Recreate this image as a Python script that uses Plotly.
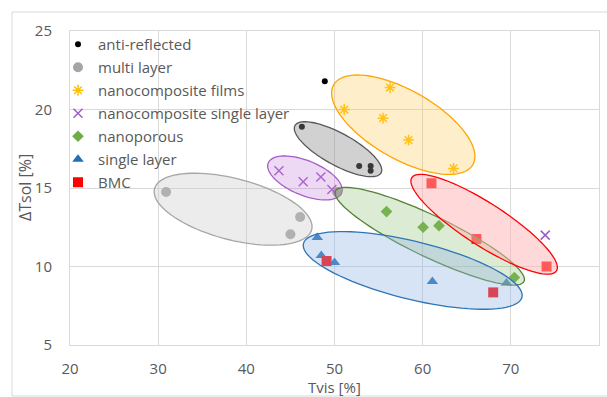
import numpy as np
import plotly.graph_objects as go

# --- measured values: Tvis [%] vs ΔTsol [%] ---
anti_x = [48.9, 46.3, 52.8, 54.1, 54.1]
anti_y = [21.8, 18.9, 16.4, 16.4, 16.1]

multi_x = [30.9, 46.1, 45.0, 50.3]
multi_y = [14.75, 13.15, 12.05, 14.75]

films_x = [56.3, 51.1, 55.5, 58.4, 63.5]
films_y = [21.4, 20.0, 19.45, 18.05, 16.25]

ncsl_x = [43.7, 46.45, 48.45, 49.7, 73.9]
ncsl_y = [16.1, 15.4, 15.7, 14.9, 12.0]

porous_x = [55.9, 60.05, 61.85, 70.4]
porous_y = [13.5, 12.5, 12.6, 9.3]

single_x = [48.05, 48.5, 50.0, 61.1, 69.5]
single_y = [11.85, 10.7, 10.25, 9.05, 8.95]

bmc_x = [61.0, 49.1, 66.1, 68.0, 74.05]
bmc_y = [15.3, 10.35, 11.75, 8.35, 10.0]

x_ticks = [20, 30, 40, 50, 60, 70, 80]
y_ticks = [5, 10, 15, 20, 25]

# group outlines: centre (x, y), half axes in Tvis units, tilt in screen degrees
groups = [
    dict(cx=38.5, cy=13.65, a=9.21, b=3.47, tilt=14.6, fill="rgba(200,200,200,0.35)", line="#a6a6a6"),
    dict(cx=50.4, cy=17.47, a=5.57, b=1.81, tilt=28.8, fill="rgba(140,140,140,0.40)", line="#595959"),
    dict(cx=46.65, cy=15.64, a=4.50, b=1.96, tilt=22.3, fill="rgba(200,130,220,0.30)", line="#a55ec8"),
    dict(cx=57.8, cy=19.03, a=9.10, b=3.88, tilt=29.8, fill="rgba(255,200,80,0.30)", line="#ffa500"),
    dict(cx=60.8, cy=11.93, a=11.86, b=2.34, tilt=25.6, fill="rgba(140,190,110,0.30)", line="#548235"),
    dict(cx=58.87, cy=9.75, a=12.76, b=3.28, tilt=13.8, fill="rgba(150,185,230,0.38)", line="#2e75b6"),
    dict(cx=66.97, cy=12.69, a=9.76, b=2.41, tilt=32.8, fill="rgba(255,180,180,0.50)", line="#ff0000"),
]

W, H = 607, 397
ML, MR, MT, MB = 70, 8, 31, 52
XR, YR = [20, 80], [5, 25]
PW, PH = W - ML - MR, H - MT - MB
sx = PW / (XR[1] - XR[0])  # px per x unit
sy = PH / (YR[1] - YR[0])  # px per y unit


def ellipse_path(g, n=90):
    t = np.linspace(0, 2 * np.pi, n, endpoint=False)
    th = np.radians(g["tilt"])
    a, b = g["a"] * sx, g["b"] * sx
    dx = a * np.cos(t) * np.cos(th) - b * np.sin(t) * np.sin(th)
    dy = a * np.cos(t) * np.sin(th) + b * np.sin(t) * np.cos(th)
    xs = g["cx"] + dx / sx
    ys = g["cy"] - dy / sy
    pts = [f"{x:.4f},{y:.4f}" for x, y in zip(xs, ys)]
    return "M" + " L".join(pts) + " Z"


font = "Open Sans"
grey_txt = "#595959"
grid = "#d9d9d9"

fig = go.Figure()
series = [
    ("anti-reflected", anti_x, anti_y, dict(symbol="circle", size=6, color="#000000")),
    ("multi layer", multi_x, multi_y, dict(symbol="circle", size=10, color="#a5a5a5")),
    ("nanocomposite films", films_x, films_y,
     dict(symbol="asterisk-open", size=9, color="#ffc000", line=dict(color="#ffc000", width=1.5))),
    ("nanocomposite single layer", ncsl_x, ncsl_y,
     dict(symbol="x-thin-open", size=9, color="#a05cc8", line=dict(color="#a05cc8", width=1.5))),
    ("nanoporous", porous_x, porous_y, dict(symbol="diamond", size=9, color="#70ad47")),
    ("single layer", single_x, single_y, dict(symbol="triangle-up", size=10, color="#1f6fb5")),
    ("BMC", bmc_x, bmc_y, dict(symbol="square", size=10, color="#ff0000")),
]
for i, (name, xs, ys, mk) in enumerate(series):
    fig.add_trace(go.Scatter(x=xs, y=ys, mode="markers", name=name, marker=mk,
                             legendgroup=f"g{i}"))

for g in groups:
    fig.add_shape(type="path", path=ellipse_path(g), xref="x", yref="y", layer="above",
                  fillcolor=g["fill"], line=dict(color=g["line"], width=1.3))

# chart frame
fig.add_shape(type="rect", xref="paper", yref="paper",
              x0=(12 - ML) / PW, x1=1.03,
              y0=-(H - 1 - (H - MB)) / PH, y1=1 + (MT - 12) / PH,
              line=dict(color=grid, width=1), layer="below")

fig.update_layout(
    width=W, height=H, autosize=False,
    margin=dict(l=ML, r=MR, t=MT, b=MB),
    plot_bgcolor="white", paper_bgcolor="white",
    font=dict(family=font, color=grey_txt, size=15),
    showlegend=True,
    legend=dict(x=-12 / PW, y=1.0 + 3 / PH, xanchor="left", yanchor="top",
                bgcolor="rgba(0,0,0,0)", font=dict(size=15, color=grey_txt),
                tracegroupgap=0.5, itemwidth=30),
    xaxis=dict(range=XR, tickvals=x_ticks, showgrid=True, gridcolor=grid, gridwidth=1,
               showline=True, mirror=True, linecolor=grid, linewidth=1, zeroline=False,
               ticks="", ticklabelstandoff=10, tickfont=dict(size=15, color=grey_txt)),
    yaxis=dict(range=YR, tickvals=y_ticks, showgrid=True, gridcolor=grid, gridwidth=1,
               showline=True, mirror=True, linecolor=grid, linewidth=1, zeroline=False,
               ticks="", ticklabelstandoff=14, tickfont=dict(size=15, color=grey_txt)),
    annotations=[
        dict(text="Tvis [%]", xref="paper", yref="paper", x=0.5, y=-(387 - (H - MB)) / PH,
             xanchor="center", yanchor="middle", showarrow=False, font=dict(size=15, color=grey_txt)),
        dict(text="ΔTsol [%]", xref="paper", yref="paper", x=-(ML - 25) / PW,
             y=(H - MB - 188) / PH, textangle=-90,
             xanchor="center", yanchor="middle", showarrow=False, font=dict(size=16, color=grey_txt)),
    ],
)

fig.write_html("out.html")
